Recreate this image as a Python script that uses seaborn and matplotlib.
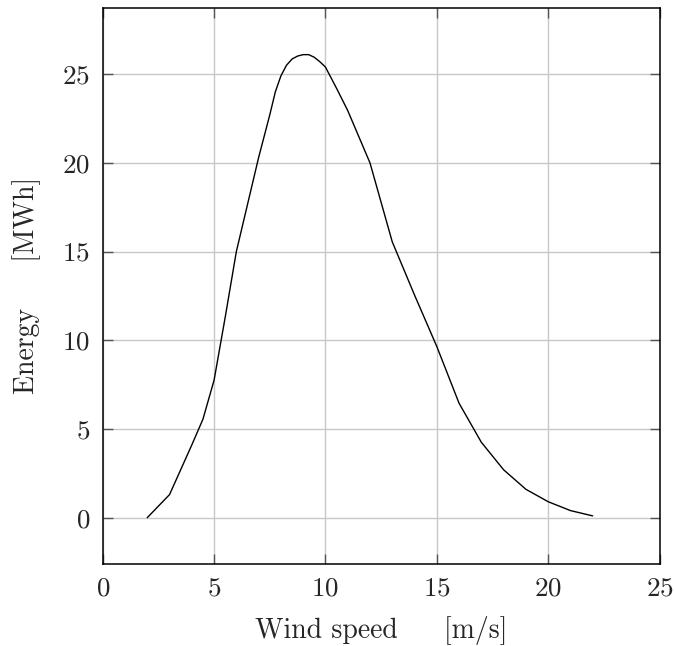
import numpy as np
import pandas as pd
import matplotlib
matplotlib.use('Agg')
import matplotlib.pyplot as plt
import seaborn as sns

# wind speed [m/s] and energy [MWh]
wind_speed = [2, 3, 4, 4.5, 5, 5.5, 6, 7, 7.5, 7.75, 8, 8.25, 8.5, 8.75, 9,
              9.25, 9.5, 9.75, 10, 10.5, 11, 12, 13, 14, 15, 16, 17, 18,
              19, 20, 21, 22]
energy = [0.0, 1.3, 4.1, 5.55, 7.75, 11.3, 15.0, 20.3, 22.7, 24.0, 24.9,
          25.5, 25.85, 26.02, 26.1, 26.1, 25.95, 25.7, 25.4, 24.2, 22.95,
          20.0, 15.55, 12.55, 9.65, 6.45, 4.25, 2.7, 1.6, 0.9, 0.4, 0.1]

x_ticks = [0, 5, 10, 15, 20, 25]
y_ticks = [0, 5, 10, 15, 20, 25]

df = pd.DataFrame({'wind': wind_speed, 'energy': energy})

sns.set_theme(style='white')
plt.rcParams['font.family'] = ['cmr10', 'DejaVu Serif']
plt.rcParams['mathtext.fontset'] = 'cm'
plt.rcParams['axes.formatter.use_mathtext'] = True
plt.rcParams['axes.unicode_minus'] = False

fig = plt.figure(figsize=(6.74, 6.46), dpi=100)
ax = fig.add_axes([0.1524, 0.1269, 0.8261, 0.8611])

sns.lineplot(data=df, x='wind', y='energy', color='black', lw=1.0, ax=ax)

# pgfplots style limits (10% enlarged on y)
ymin, ymax = 0.0, 26.13
pad = 0.1 * (ymax - ymin)
ax.set_xlim(0, 25)
ax.set_ylim(ymin - pad, ymax + pad)
ax.set_xticks(x_ticks)
ax.set_yticks(y_ticks)

ax.grid(True, color='#c8c8c8', lw=1.0)
ax.set_axisbelow(True)
for s in ax.spines.values():
    s.set_color('black')
    s.set_linewidth(1.1)

ax.tick_params(direction='in', length=7, width=1.0, color='#555555',
               top=True, right=True, bottom=True, left=True,
               labelsize=19.5, pad=9)

ax.set_xlabel('Wind speed     [m/s]', fontsize=20, labelpad=11)
ax.set_ylabel('Energy     [MWh]', fontsize=20, labelpad=15)

fig.savefig('out.png', dpi=100)
